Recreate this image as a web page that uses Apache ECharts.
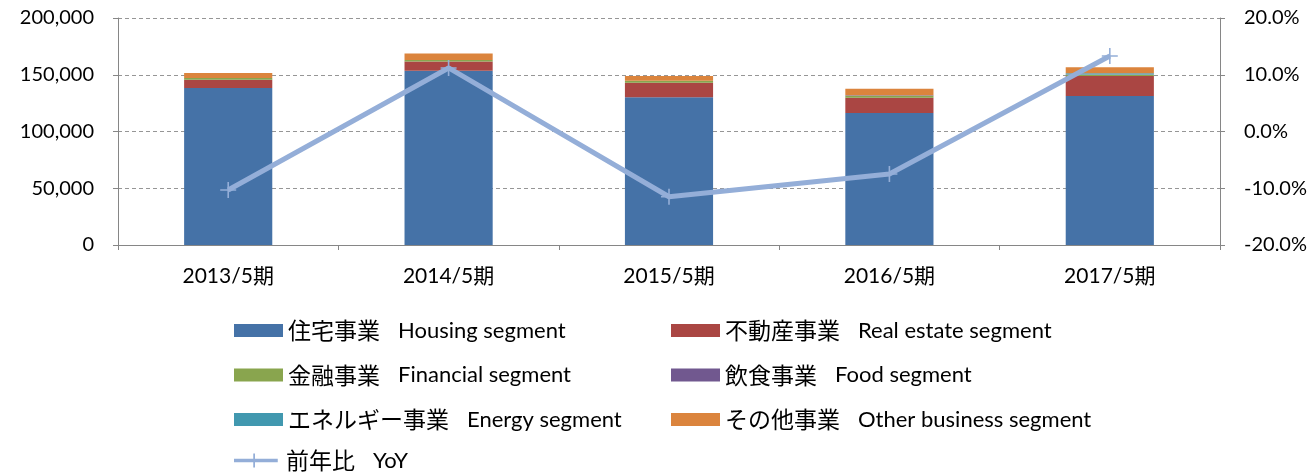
<!DOCTYPE html>
<html><head><meta charset="utf-8">
<script src="https://cdn.jsdelivr.net/npm/echarts@6/dist/echarts.min.js"></script>
<style>html,body{margin:0;padding:0;background:#fff}#c{width:1314px;height:476px}</style>
</head><body><div id="c"></div>
<script>
const categories = ['2013/5期','2014/5期','2015/5期','2016/5期','2017/5期'];
const housing   = [138300, 153600, 130100, 116300, 131300];
const realEstate= [7300, 8000, 12900, 13500, 17600];
const financial = [1500, 1300, 1800, 1800, 1000];
const food      = [0, 0, 0, 400, 300];
const energy    = [0, 0, 0, 0, 1100];
const other     = [4400, 5800, 4100, 5600, 5300];
const yoy       = [-10.3, 11.2, -11.5, -7.5, 13.3];
const leftTicks = [0, 50000, 100000, 150000, 200000];
const rightTicks= [-20, -10, 0, 10, 20];

const names = {
  housing:'住宅事業|Housing segment', real:'不動産事業|Real estate segment',
  fin:'金融事業|Financial segment', food:'飲食事業|Food segment',
  energy:'エネルギー事業|Energy segment', other:'その他事業|Other business segment',
  yoy:'前年比|YoY'
};
const colors = {housing:'#4572A7', real:'#AA4643', fin:'#89A54E', food:'#71588F', energy:'#4198AF', other:'#DB843D', yoy:'#94AED8'};
const FONT = 'Lato, "Noto Sans CJK JP", sans-serif';
const JP = '"Noto Sans CJK JP", sans-serif';
const plus = 'path://M9,0 L11,0 L11,9 L20,9 L20,11 L11,11 L11,20 L9,20 L9,11 L0,11 L0,9 L9,9 Z';

function bar(key, data){
  return {name:names[key], type:'bar', stack:'s', data:data, barWidth:'40%',
    itemStyle:{color:colors[key]}, emphasis:{disabled:true}};
}
const legendText = {
  formatter: n => { const p=n.split('|'); return '{jp|'+p[0]+'}{en|'+p[1]+'}'; },
  textStyle:{rich:{jp:{fontFamily:JP, fontSize:23, color:'#000', lineHeight:26},
                   en:{fontFamily:FONT, fontSize:22, color:'#000', padding:[0,0,0,18], lineHeight:26}}}
};
function leg(left, top, items){
  return Object.assign({left:left, top:top, padding:0, orient:'vertical', itemWidth:49, itemHeight:13, itemGap:21.5,
    data:items, icon:'rect'}, legendText);
}
const chart = echarts.init(document.getElementById('c'), null, {renderer:'canvas'});
chart.setOption({
  animation:false,
  grid:{left:118, right:94, top:18, bottom:231, containLabel:false},
  legend:[
    leg(234, 319, [names.housing, names.fin, names.energy]),
    leg(671, 319, [names.real, names.food, names.other]),
    Object.assign({left:234, top:449, padding:0, itemWidth:50, itemHeight:14,
      data:[{name:names.yoy, icon:'path://M0,6 L22,6 L22,0 L24,0 L24,6 L50,6 L50,10 L24,10 L24,16 L22,16 L22,10 L0,10 Z'}]}, legendText)
  ],
  xAxis:{type:'category', data:categories,
    axisLine:{lineStyle:{color:'#868686', width:1}},
    axisTick:{show:true, length:5, lineStyle:{color:'#868686'}},
    axisLabel:{fontFamily:FONT, fontSize:21, color:'#000', margin:21}},
  yAxis:[
    {type:'value', min:0, max:200000, interval:50000, position:'left',
      axisLine:{show:true, lineStyle:{color:'#868686'}},
      axisTick:{show:true, length:5, lineStyle:{color:'#868686'}},
      splitLine:{show:true, lineStyle:{color:'#969696', type:[4,3], width:1}},
      axisLabel:{fontFamily:FONT, fontSize:20, color:'#000', margin:24,
        formatter:v=>v.toLocaleString('en-US')}},
    {type:'value', min:-20, max:20, interval:10, position:'right',
      axisLine:{show:true, lineStyle:{color:'#868686'}},
      axisTick:{show:true, length:5, lineStyle:{color:'#868686'}},
      splitLine:{show:false},
      axisLabel:{fontFamily:FONT, fontSize:20, color:'#000', margin:24,
        formatter:v=>v.toFixed(1)+'%'}}
  ],
  series:[
    bar('housing', housing), bar('real', realEstate), bar('fin', financial),
    bar('food', food), bar('energy', energy), bar('other', other),
    {name:names.yoy, type:'line', yAxisIndex:1, data:yoy,
      lineStyle:{color:colors.yoy, width:5}, itemStyle:{color:colors.yoy},
      symbol:plus, symbolSize:16, showSymbol:true, z:10, emphasis:{disabled:true}}
  ]
});
</script></body></html>
